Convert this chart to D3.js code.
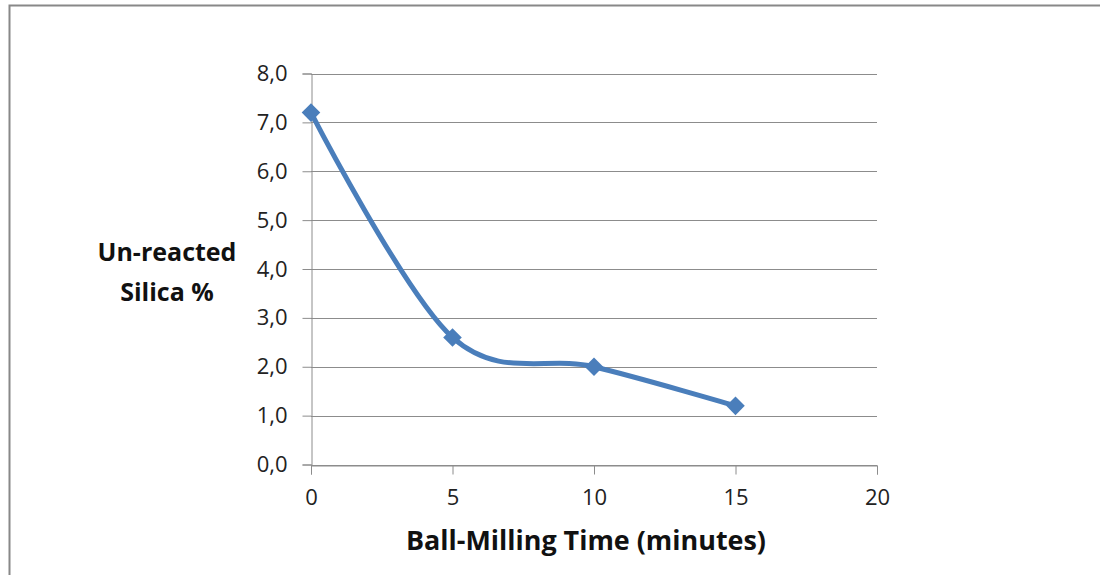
<!DOCTYPE html>
<html>
<head>
<meta charset="utf-8">
<script src="https://cdn.jsdelivr.net/npm/d3@7"></script>
<style>
  html, body { margin: 0; padding: 0; background: #fff; }
  svg { display: block; font-family: "Open Sans", "Noto Sans", sans-serif; }
</style>
</head>
<body>
<div id="chart"></div>
<script>
const minutes = [0, 5, 10, 15];
const silica = [7.2, 2.6, 2.0, 1.2];
const xTicks = [0, 5, 10, 15, 20];
const yTicks = [0, 1, 2, 3, 4, 5, 6, 7, 8];
const xTitle = "Ball-Milling Time (minutes)";
const yTitle = ["Un-reacted", "Silica %"];

const width = 1100;
const height = 575;
const lineColor = "#4a7ebb";
const gridColor = "#8c8c8c";

const x = d3.scaleLinear().domain([0, 20]).range([311, 877]);
const y = d3.scaleLinear().domain([0, 8]).range([464.5, 73.5]);
const fmt = (d) => d3.format(".1f")(d).replace(".", ",");

const svg = d3
  .select("#chart")
  .append("svg")
  .attr("width", width)
  .attr("height", height);

// outer chart frame
svg
  .append("path")
  .attr("d", `M9.5,${height} V5.5 H${width}`)
  .attr("fill", "none")
  .attr("stroke", "#888")
  .attr("stroke-width", 2);

// horizontal gridlines
svg
  .append("g")
  .selectAll()
  .data(yTicks)
  .join("line")
  .attr("x1", x(0))
  .attr("x2", x(20))
  .attr("y1", (d) => Math.round(y(d)) + 0.5)
  .attr("y2", (d) => Math.round(y(d)) + 0.5)
  .attr("stroke", gridColor)
  .attr("stroke-width", 1);

const yAxis = svg
  .append("g")
  .attr("transform", `translate(${x(0) + 0.5},0)`)
  .call(d3.axisLeft(y).tickValues(yTicks).tickFormat(fmt).tickSize(9).tickPadding(15));

const xAxis = svg
  .append("g")
  .attr("transform", `translate(0,${Math.round(y(0)) + 0.5})`)
  .call(d3.axisBottom(x).tickValues(xTicks).tickSize(9).tickPadding(12));

[yAxis, xAxis].forEach((g) => {
  g.select(".domain").attr("stroke", gridColor);
  g.selectAll(".tick line").attr("stroke", gridColor);
  g.selectAll(".tick text")
    .attr("fill", "#222")
    .attr("font-size", 22)
    .attr("font-family", '"Open Sans", "Noto Sans", sans-serif');
});
xAxis.selectAll(".tick text").attr("dy", "0.85em");

const pts = minutes.map((m, i) => [m, silica[i]]);

const line = d3
  .line()
  .curve(d3.curveCardinal.tension(0))
  .x((d) => x(d[0]))
  .y((d) => y(d[1]));

svg
  .append("path")
  .datum(pts)
  .attr("d", line)
  .attr("fill", "none")
  .attr("stroke", lineColor)
  .attr("stroke-width", 5)
  .attr("stroke-linejoin", "round");

svg
  .append("g")
  .selectAll()
  .data(pts)
  .join("path")
  .attr("d", d3.symbol(d3.symbolDiamond2, 220))
  .attr("transform", (d) => `translate(${x(d[0])},${y(d[1])})`)
  .attr("fill", lineColor);

// axis titles
svg
  .append("text")
  .attr("x", 586)
  .attr("y", 550)
  .attr("text-anchor", "middle")
  .attr("font-size", 26)
  .attr("font-weight", "bold")
  .attr("fill", "#111")
  .attr("textLength", 360)
  .attr("lengthAdjust", "spacingAndGlyphs")
  .text(xTitle);

svg
  .append("g")
  .selectAll()
  .data(yTitle)
  .join("text")
  .attr("x", 167)
  .attr("y", (d, i) => 261 + i * 40)
  .attr("text-anchor", "middle")
  .attr("font-size", 25)
  .attr("font-weight", "bold")
  .attr("fill", "#111")
  .text((d) => d);
</script>
</body>
</html>
